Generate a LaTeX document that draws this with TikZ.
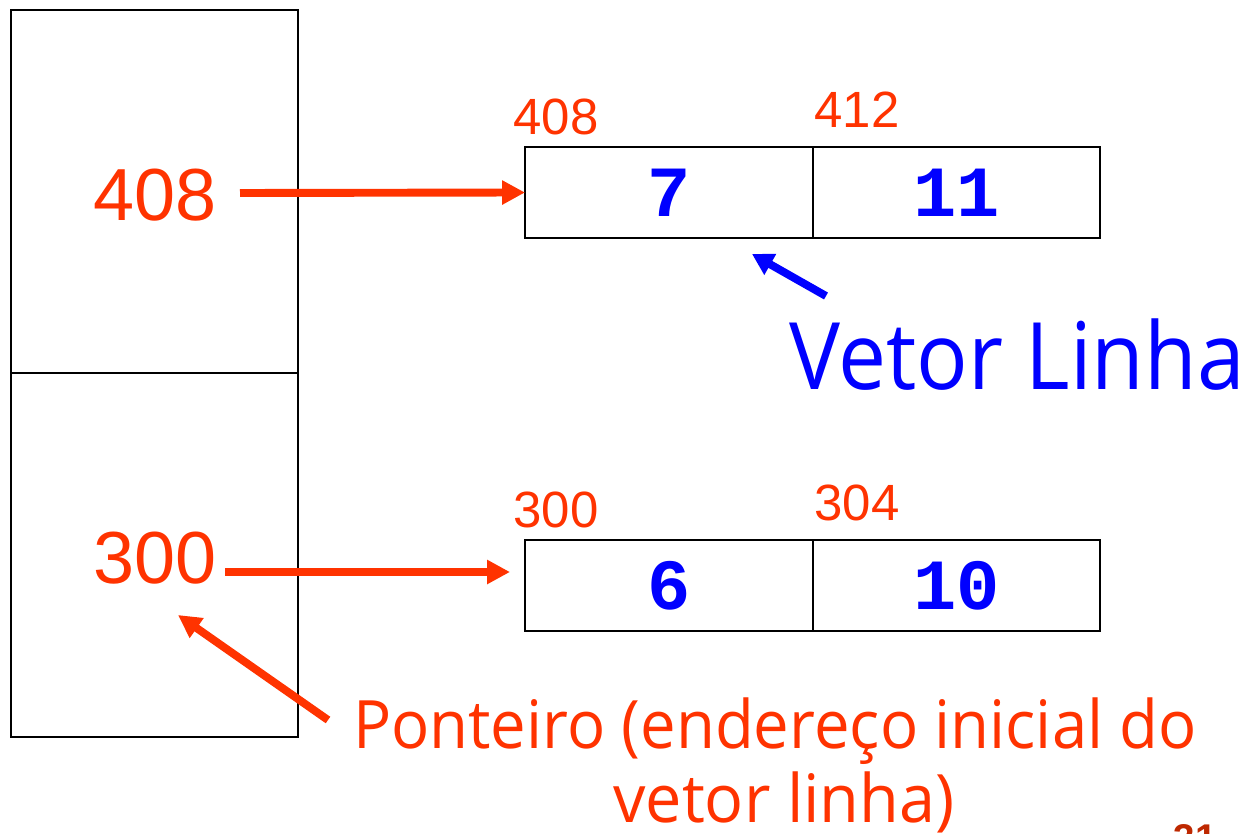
\documentclass[tikz,border=0pt]{standalone}
\usepackage{fontspec}
\usepackage{graphicx}
\setmainfont{Liberation Sans}
\newfontfamily\monofam{Liberation Mono}
\newfontfamily\handfam{Open Sans}
\usetikzlibrary{arrows.meta}
\definecolor{ptrred}{RGB}{255,51,0}
\definecolor{valblue}{RGB}{0,0,255}
\definecolor{pagered}{RGB}{190,40,0}
\begin{document}
\begin{tikzpicture}[x=0.02cm,y=-0.02cm,
  cell/.style={draw=black,line width=1.1pt,minimum width=5.75cm,minimum height=1.82cm,inner sep=0pt,outer sep=0pt},
  memcell/.style={draw=black,line width=1.1pt,minimum width=5.74cm,minimum height=7.27cm,inner sep=0pt,outer sep=0pt},
  value/.style={font=\monofam\bfseries\fontsize{41}{41}\selectfont,text=valblue,inner sep=0pt},
  addr/.style={font=\fontsize{29}{29}\selectfont,text=ptrred,inner sep=0pt},
  bigaddr/.style={font=\fontsize{42}{42}\selectfont,text=ptrred,inner sep=0pt},
  note/.style={font=\handfam,inner sep=0pt,anchor=base},
  ptr/.style={draw=ptrred,line width=4.5pt,-{Triangle[length=13pt,width=13pt]}},
  bluearrow/.style={draw=valblue,line width=4.5pt,-{Triangle[length=12pt,width=13pt]}}]
\clip (0,0) rectangle (1251,834);
\fill[white] (0,0) rectangle (1251,834);

% memory column holding the two pointers
\node[memcell] (m1) at (154.5,191.5) {};
\node[memcell] (m2) at (154.5,555) {};
\node[bigaddr] (p1) at (155,195) {408};
\node[bigaddr] (p2) at (155,558) {300};

% row vector at 408
\node[cell] (a1) at (668.75,192.5) {};
\node[cell] (a2) at (956.25,192.5) {};
\node[value] (v1) at (a1.center) {7};
\node[value] (v2) at (a2.center) {11};
\node[addr] (l1) at (556,117) {408};
\node[addr] (l2) at (857,110) {412};

% row vector at 300
\node[cell] (b1) at (668.75,585.5) {};
\node[cell] (b2) at (956.25,585.5) {};
\node[value] (w1) at (b1.center) {6};
\node[value] (w2) at (b2.center) {10};
\node[addr] (k1) at (556,510) {300};
\node[addr] (k2) at (857,503) {304};

% pointer arrows
\coordinate (s1) at (240,193);
\draw[ptr] (s1) -- (a1.west);
\coordinate (s2) at (225,572);
\coordinate (e2) at (510,572);
\draw[ptr] (s2) -- (e2);

% annotations
\node[note,text=valblue,font=\handfam\fontsize{53}{53}\selectfont] (vl) at (1017,390) {\scalebox{0.92}[1]{Vetor Linha}};
\coordinate (vs) at (826,296);
\coordinate (vt) at (752,254);
\draw[bluearrow] (vs) -- (vt);

\node[note,text=ptrred,font=\handfam\fontsize{38}{38}\selectfont] (pt1) at (775,748) {\scalebox{0.95}[1]{Ponteiro (endereço inicial do}};
\node[note,text=ptrred,font=\handfam\fontsize{38}{38}\selectfont] (pt2) at (784,822) {\scalebox{0.97}[1]{vetor linha)}};
\coordinate (ps) at (328,720);
\coordinate (pe) at (178,615);
\draw[ptr] (ps) -- (pe);

% page number
\node[anchor=base,text=pagered,font=\bfseries\fontsize{22}{22}\selectfont,inner sep=0pt] (pg) at (1195,851) {31};
\end{tikzpicture}
\end{document}
